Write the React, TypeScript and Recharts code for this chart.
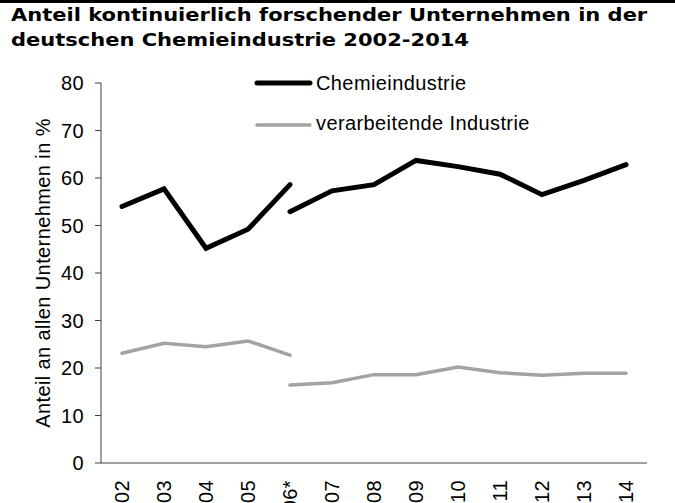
import { Line, LineChart, XAxis, YAxis } from 'recharts'

const years = ['02', '03', '04', '05', '06*', '07', '08', '09', '10', '11', '12', '13', '14']
// Bruch in der Zeitreihe bei 06*: je Reihe zwei Abschnitte
const chemieBis06 = [54.0, 57.7, 45.2, 49.2, 58.6]
const chemieAb06 = [52.9, 57.3, 58.6, 63.7, 62.4, 60.8, 56.5, 59.5, 62.8]
const verarbBis06 = [23.1, 25.2, 24.5, 25.7, 22.7]
const verarbAb06 = [16.4, 16.9, 18.6, 18.6, 20.2, 19.0, 18.5, 18.9, 18.9]
const yTicks = [0, 10, 20, 30, 40, 50, 60, 70, 80]
const bruch = 4

const data = years.map((year, i) => ({
  year,
  chemieA: i <= bruch ? chemieBis06[i] : null,
  chemieB: i >= bruch ? chemieAb06[i - bruch] : null,
  verarbA: i <= bruch ? verarbBis06[i] : null,
  verarbB: i >= bruch ? verarbAb06[i - bruch] : null,
}))

const BLACK = '#000000'
const GRAY = '#a3a3a3'
const sans = '"Liberation Sans", Arial, sans-serif'
const textStyle = { fontFamily: sans, fontSize: 20, letterSpacing: '0.4px' }

function YTick({ x, y, payload }: any) {
  return (
    <text x={x} y={y} dy="0.355em" textAnchor="end" fill="#000" style={textStyle}>
      {payload.value}
    </text>
  )
}

function XTick({ x, y, payload }: any) {
  return (
    <g transform={`translate(${x},${y})`}>
      <text x={-17} y={0} dy="0.355em" transform="rotate(-90)" textAnchor="end" fill="#000" style={textStyle}>
        {payload.value}
      </text>
    </g>
  )
}

export default function App() {
  return (
    <div style={{ position: 'absolute', left: 0, top: 0, width: 675, height: 503, background: '#fff', overflow: 'hidden' }}>
      <div style={{ position: 'absolute', left: 0, top: 0, width: 675, height: 3, background: '#000' }} />
      <div
        style={{
          position: 'absolute',
          left: 11,
          top: 3,
          fontFamily: '"DejaVu Sans", Verdana, sans-serif',
          fontWeight: 'bold',
          fontSize: 17.5,
          lineHeight: '25px',
          whiteSpace: 'nowrap',
          transform: 'scaleX(1.2)',
          transformOrigin: 'left top',
          color: '#000',
        }}
      >
        <div>Anteil kontinuierlich forschender Unternehmen in der</div>
        <div>deutschen Chemieindustrie 2002-2014</div>
      </div>

      <div style={{ position: 'absolute', left: 0, top: 0 }}>
        <LineChart width={675} height={503} data={data} margin={{ top: 83, right: 28, bottom: 0, left: 0 }}>
          <XAxis
            dataKey="year"
            interval={0}
            padding={{ left: 21, right: 21 }}
            height={40}
            tickLine={false}
            tickSize={0}
            tickMargin={0}
            axisLine={{ stroke: '#404040', strokeWidth: 1 }}
            tick={<XTick />}
          />
          <YAxis
            domain={[0, 80]}
            ticks={yTicks}
            width={101}
            tickSize={6}
            tickMargin={11}
            tickLine={{ stroke: '#404040' }}
            axisLine={{ stroke: '#404040', strokeWidth: 1 }}
            tick={<YTick />}
            label={{
              value: 'Anteil an allen Unternehmen in %',
              angle: -90,
              position: 'insideLeft',
              offset: 43,
              fill: '#000',
              style: { ...textStyle, textAnchor: 'middle' },
            }}
          />
          <Line dataKey="verarbA" stroke={GRAY} strokeWidth={3.5} strokeLinecap="round" dot={false} activeDot={false} isAnimationActive={false} />
          <Line dataKey="verarbB" stroke={GRAY} strokeWidth={3.5} strokeLinecap="round" dot={false} activeDot={false} isAnimationActive={false} />
          <Line dataKey="chemieA" stroke={BLACK} strokeWidth={5} strokeLinecap="round" dot={false} activeDot={false} isAnimationActive={false} />
          <Line dataKey="chemieB" stroke={BLACK} strokeWidth={5} strokeLinecap="round" dot={false} activeDot={false} isAnimationActive={false} />
        </LineChart>
      </div>

      <svg width={675} height={503} style={{ position: 'absolute', left: 0, top: 0, pointerEvents: 'none' }}>
        <line x1={257} y1={83} x2={310} y2={83} stroke={BLACK} strokeWidth={5} strokeLinecap="round" />
        <text x={316} y={90} fill="#000" style={textStyle}>Chemieindustrie</text>
        <line x1={257} y1={125} x2={310} y2={125} stroke={GRAY} strokeWidth={3.5} strokeLinecap="round" />
        <text x={316} y={130} fill="#000" style={textStyle}>verarbeitende Industrie</text>
      </svg>
    </div>
  )
}
